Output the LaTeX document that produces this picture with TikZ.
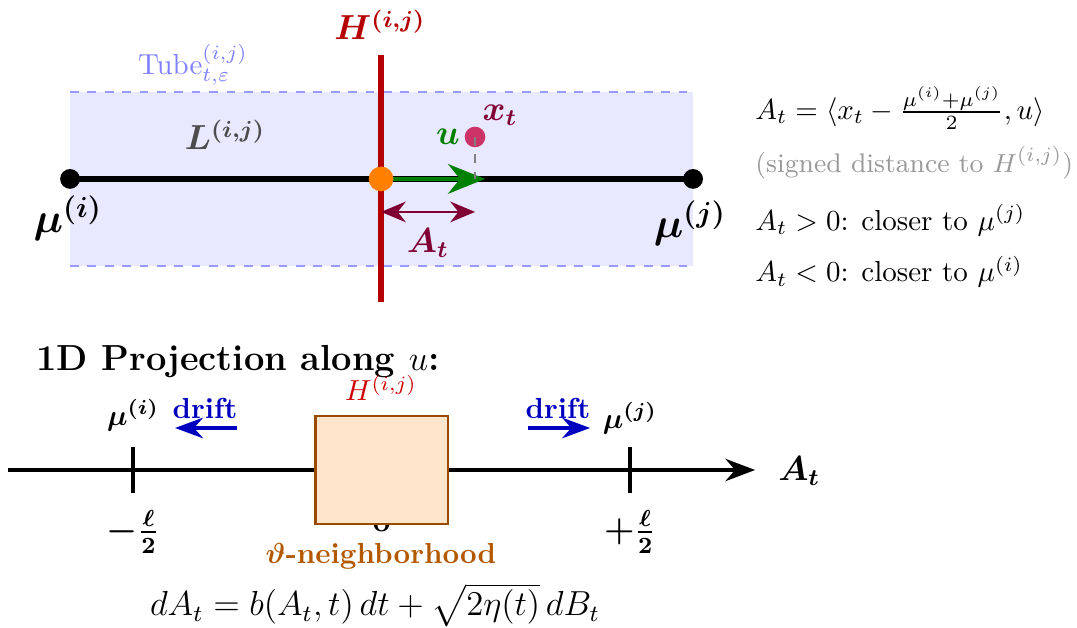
\documentclass[tikz,border=0pt]{standalone}
\usepackage{amsmath,amssymb}
\usetikzlibrary{arrows.meta}
\definecolor{hred}{RGB}{180,0,0}
\definecolor{ptcol}{RGB}{204,51,102}
\definecolor{atcol}{RGB}{128,0,51}
\tikzset{
  tubeedge/.style={blue!40, dashed, line width=0.7pt},
  enddot/.style={circle, fill=black, inner sep=0pt, minimum size=0.24cm},
  axisline/.style={line width=1.25pt, -{Stealth[length=3.6mm, width=2.7mm]}},
  tickmark/.style={line width=1.25pt},
  driftarrow/.style={blue!75!black, line width=1.15pt, -{Stealth[length=3.4mm, width=2.5mm]}},
  driftlabel/.style={blue!75!black, font=\bfseries},
  sidetext/.style={anchor=west, inner sep=0pt},
}
\begin{document}
\begin{tikzpicture}[scale=1.14]
\useasboundingbox (0,0) rectangle (11.457,6.670);
% tube around the segment
\fill[blue!9] (0.745,3.840) rectangle (7.372,5.691);
\draw[tubeedge] (0.745,5.691) -- (7.372,5.691);
\draw[tubeedge] (0.745,3.840) -- (7.372,3.840);
\node[blue!50] (tube) at (2.053,5.979) {$\mathrm{Tube}_{t,\varepsilon}^{(i,j)}$};
% segment between the means
\coordinate (mui) at (0.745,4.766);
\coordinate (muj) at (7.372,4.766);
\coordinate (mid) at (4.053,4.766);
\draw[line width=1.8pt] (mui) -- (muj);
\node[enddot] (dotI) at (mui) {};
\node[enddot] (dotJ) at (muj) {};
\node (muIlab) at (0.723,4.351) {\Large$\boldsymbol{\mu^{(i)}}$};
\node (muJlab) at (7.340,4.298) {\Large$\boldsymbol{\mu^{(j)}}$};
\node[black!70] (Llab) at (2.394,5.234) {\large$\boldsymbol{L^{(i,j)}}$};
% hyperplane
\coordinate (Htop) at (4.053,6.085);
\coordinate (Hbot) at (4.053,3.457);
\draw[hred, line width=2.2pt] (Htop) -- (Hbot);
\node[hred] (Hlab) at (4.043,6.404) {\large$\boldsymbol{H^{(i,j)}}$};
% direction u and the point x_t
\coordinate (utip) at (5.160,4.766);
\coordinate (xfoot) at (5.053,4.766);
\draw[green!50!black, line width=1.5pt, -{Stealth[length=4.5mm, width=3.6mm]}] (mid) -- (utip);
\node[green!50!black] (ulab) at (4.766,5.213) {\large$\boldsymbol{u}$};
\node[circle, fill=ptcol, inner sep=0pt, minimum size=0.25cm] (xt) at (5.053,5.213) {};
\draw[gray, dashed, line width=0.7pt] (xt.center) -- (xfoot);
\node[atcol] (xtlab) at (5.319,5.447) {\large$\boldsymbol{x_t}$};
\node[circle, fill=orange, inner sep=0pt, minimum size=0.30cm] (center) at (mid) {};
% signed distance
\coordinate (aL) at (4.053,4.415);
\coordinate (aR) at (5.053,4.415);
\draw[atcol, line width=0.9pt, {Stealth[length=3mm, width=2.5mm]}-{Stealth[length=3mm, width=2.5mm]}] (aL) -- (aR);
\node[atcol] (Atlab) at (4.553,4.085) {\large$\boldsymbol{A_t}$};
% explanation on the right
\node[sidetext] (def) at (8.03,5.521) {$A_t = \langle x_t - \frac{\mu^{(i)}+\mu^{(j)}}{2}, u\rangle$};
\node[sidetext, black!40, font=\fontsize{9.3}{11}\selectfont] (signed) at (8.03,4.936) {(signed distance to $H^{(i,j)}$)};
\node[sidetext] (pos) at (8.03,4.330) {$A_t > 0$: closer to $\mu^{(j)}$};
\node[sidetext] (neg) at (8.03,3.777) {$A_t < 0$: closer to $\mu^{(i)}$};

% 1D projection
\node[anchor=west, font=\fontsize{12.5}{15}\selectfont\bfseries] (title) at (0.28,2.819) {1D Projection along $u$:};
\coordinate (axL) at (0.085,1.670);
\coordinate (axR) at (8.032,1.670);
\draw[axisline] (axL) -- (axR);
\node[anchor=west] (axlab) at (8.17,1.660) {\large$\boldsymbol{A_t}$};
\coordinate (tickI) at (1.415,1.670);
\coordinate (tickJ) at (6.702,1.670);
\draw[tickmark] ([yshift=0.24cm]tickI) -- ([yshift=-0.24cm]tickI);
\draw[tickmark] ([yshift=0.24cm]tickJ) -- ([yshift=-0.24cm]tickJ);
\node (muIb) at (1.415,2.255) {$\boldsymbol{\mu^{(i)}}$};
\node (muJb) at (6.702,2.223) {$\boldsymbol{\mu^{(j)}}$};
\node[font=\large] (lI) at (1.415,1.011) {$\boldsymbol{-\frac{\ell}{2}}$};
\node[font=\large] (lJ) at (6.702,1.011) {$\boldsymbol{+\frac{\ell}{2}}$};
\node[font=\large] (zero) at (4.059,1.14) {$\boldsymbol{0}$};
\node[draw=orange!60!black, fill=orange!20, line width=1pt, minimum width=1.61cm, minimum height=1.31cm] (nbhd) at (4.059,1.670) {};
\node[red!80!black] (Hsmall) at (4.053,2.543) {$H^{(i,j)}$};
\node[orange!70!black, font=\bfseries] (nbhdlab) at (4.053,0.755) {$\boldsymbol{\vartheta}$-neighborhood};
% drift towards the means
\node[driftlabel] (driftI) at (2.181,2.330) {drift};
\node[driftlabel] (driftJ) at (5.936,2.330) {drift};
\coordinate (dIs) at (2.521,2.117);
\coordinate (dIe) at (1.862,2.117);
\coordinate (dJs) at (5.617,2.117);
\coordinate (dJe) at (6.277,2.117);
\draw[driftarrow] (dIs) -- (dIe);
\draw[driftarrow] (dJs) -- (dJe);
\node[font=\large] (sde) at (3.989,0.234) {$dA_t = b(A_t,t)\,dt + \sqrt{2\eta(t)}\,dB_t$};
\end{tikzpicture}
\end{document}
